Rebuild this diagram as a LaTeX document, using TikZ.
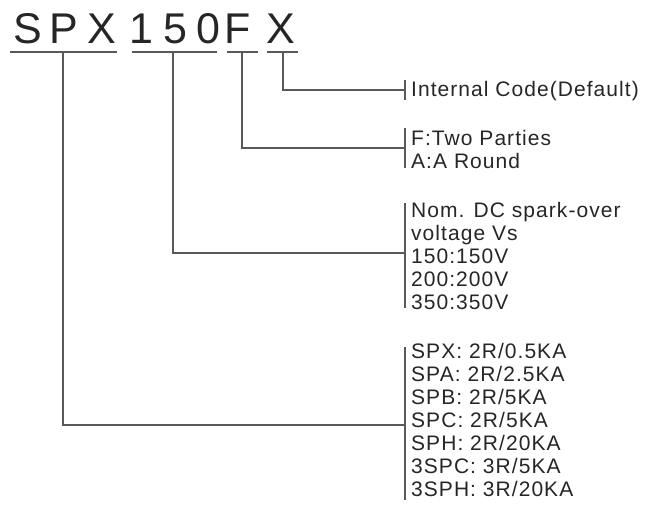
\documentclass[tikz,border=0pt]{standalone}
\usepackage{fontspec}
\setmainfont{Liberation Sans}
\newfontfamily\lblfont[LetterSpace=5]{Liberation Sans}
\begin{document}
\begin{tikzpicture}[x=1pt,y=-1pt,
  big/.style={font=\fontsize{43}{43}\selectfont, text=black!85, inner sep=0pt, anchor=base},
  lbl/.style={font=\lblfont\fontsize{21}{23}\selectfont, text=black!85, inner sep=0pt, anchor=base west},
  ln/.style={draw=black!65, line width=1.1pt}]
\useasboundingbox (0,0) rectangle (646,504);
% code letters
\node[big] (c1) at (28,43) {S};
\node[big] (c2) at (64,43) {P};
\node[big] (c3) at (102,43) {X};
\node[big] (c4) at (141,43) {1};
\node[big] (c5) at (175,43) {5};
\node[big] (c6) at (208,43) {0};
\node[big] (c7) at (238,43) {F};
\node[big] (c8) at (281,43) {X};
% underlines
\coordinate (u1a) at (10,52);  \coordinate (u1b) at (117,52);
\coordinate (u2a) at (132,52); \coordinate (u2b) at (217,52);
\coordinate (u3a) at (227,52); \coordinate (u3b) at (258,52);
\coordinate (u4a) at (267,52); \coordinate (u4b) at (298,52);
\draw[ln] (u1a) -- (u1b);
\draw[ln] (u2a) -- (u2b);
\draw[ln] (u3a) -- (u3b);
\draw[ln] (u4a) -- (u4b);
\coordinate (d1) at (63,52);
\coordinate (d2) at (173,52);
\coordinate (d3) at (242,52);
\coordinate (d4) at (283,52);
% labels
\node[lbl] (i1) at (411,96) {Internal Code(Default)};
\node[lbl] (f1) at (411,145) {F:Two Parties};
\node[lbl] (f2) at (411,168) {A:A Round};
\node[lbl] (n1) at (411,217) {Nom. DC spark-over};
\node[lbl] (n2) at (411,240) {voltage Vs};
\node[lbl] (n3) at (411,263) {150:150V};
\node[lbl] (n4) at (411,286) {200:200V};
\node[lbl] (n5) at (411,309) {350:350V};
\node[lbl] (s1) at (411,358) {SPX: 2R/0.5KA};
\node[lbl] (s2) at (411,381) {SPA: 2R/2.5KA};
\node[lbl] (s3) at (411,404) {SPB: 2R/5KA};
\node[lbl] (s4) at (411,427) {SPC: 2R/5KA};
\node[lbl] (s5) at (411,450) {SPH: 2R/20KA};
\node[lbl] (s6) at (411,473) {3SPC: 3R/5KA};
\node[lbl] (s7) at (411,496) {3SPH: 3R/20KA};
% brackets
\coordinate (b1t) at (405,80);  \coordinate (b1b) at (405,100); \coordinate (b1m) at (405,90);
\coordinate (b2t) at (405,128); \coordinate (b2b) at (405,168); \coordinate (b2m) at (405,148);
\coordinate (b3t) at (405,203); \coordinate (b3b) at (405,308); \coordinate (b3m) at (405,253);
\coordinate (b4t) at (405,347); \coordinate (b4b) at (405,500); \coordinate (b4m) at (405,425);
\draw[ln] (b1t) -- (b1b);
\draw[ln] (b2t) -- (b2b);
\draw[ln] (b3t) -- (b3b);
\draw[ln] (b4t) -- (b4b);
% connectors
\draw[ln] (d4) |- (b1m);
\draw[ln] (d3) |- (b2m);
\draw[ln] (d2) |- (b3m);
\draw[ln] (d1) |- (b4m);
\end{tikzpicture}
\end{document}
